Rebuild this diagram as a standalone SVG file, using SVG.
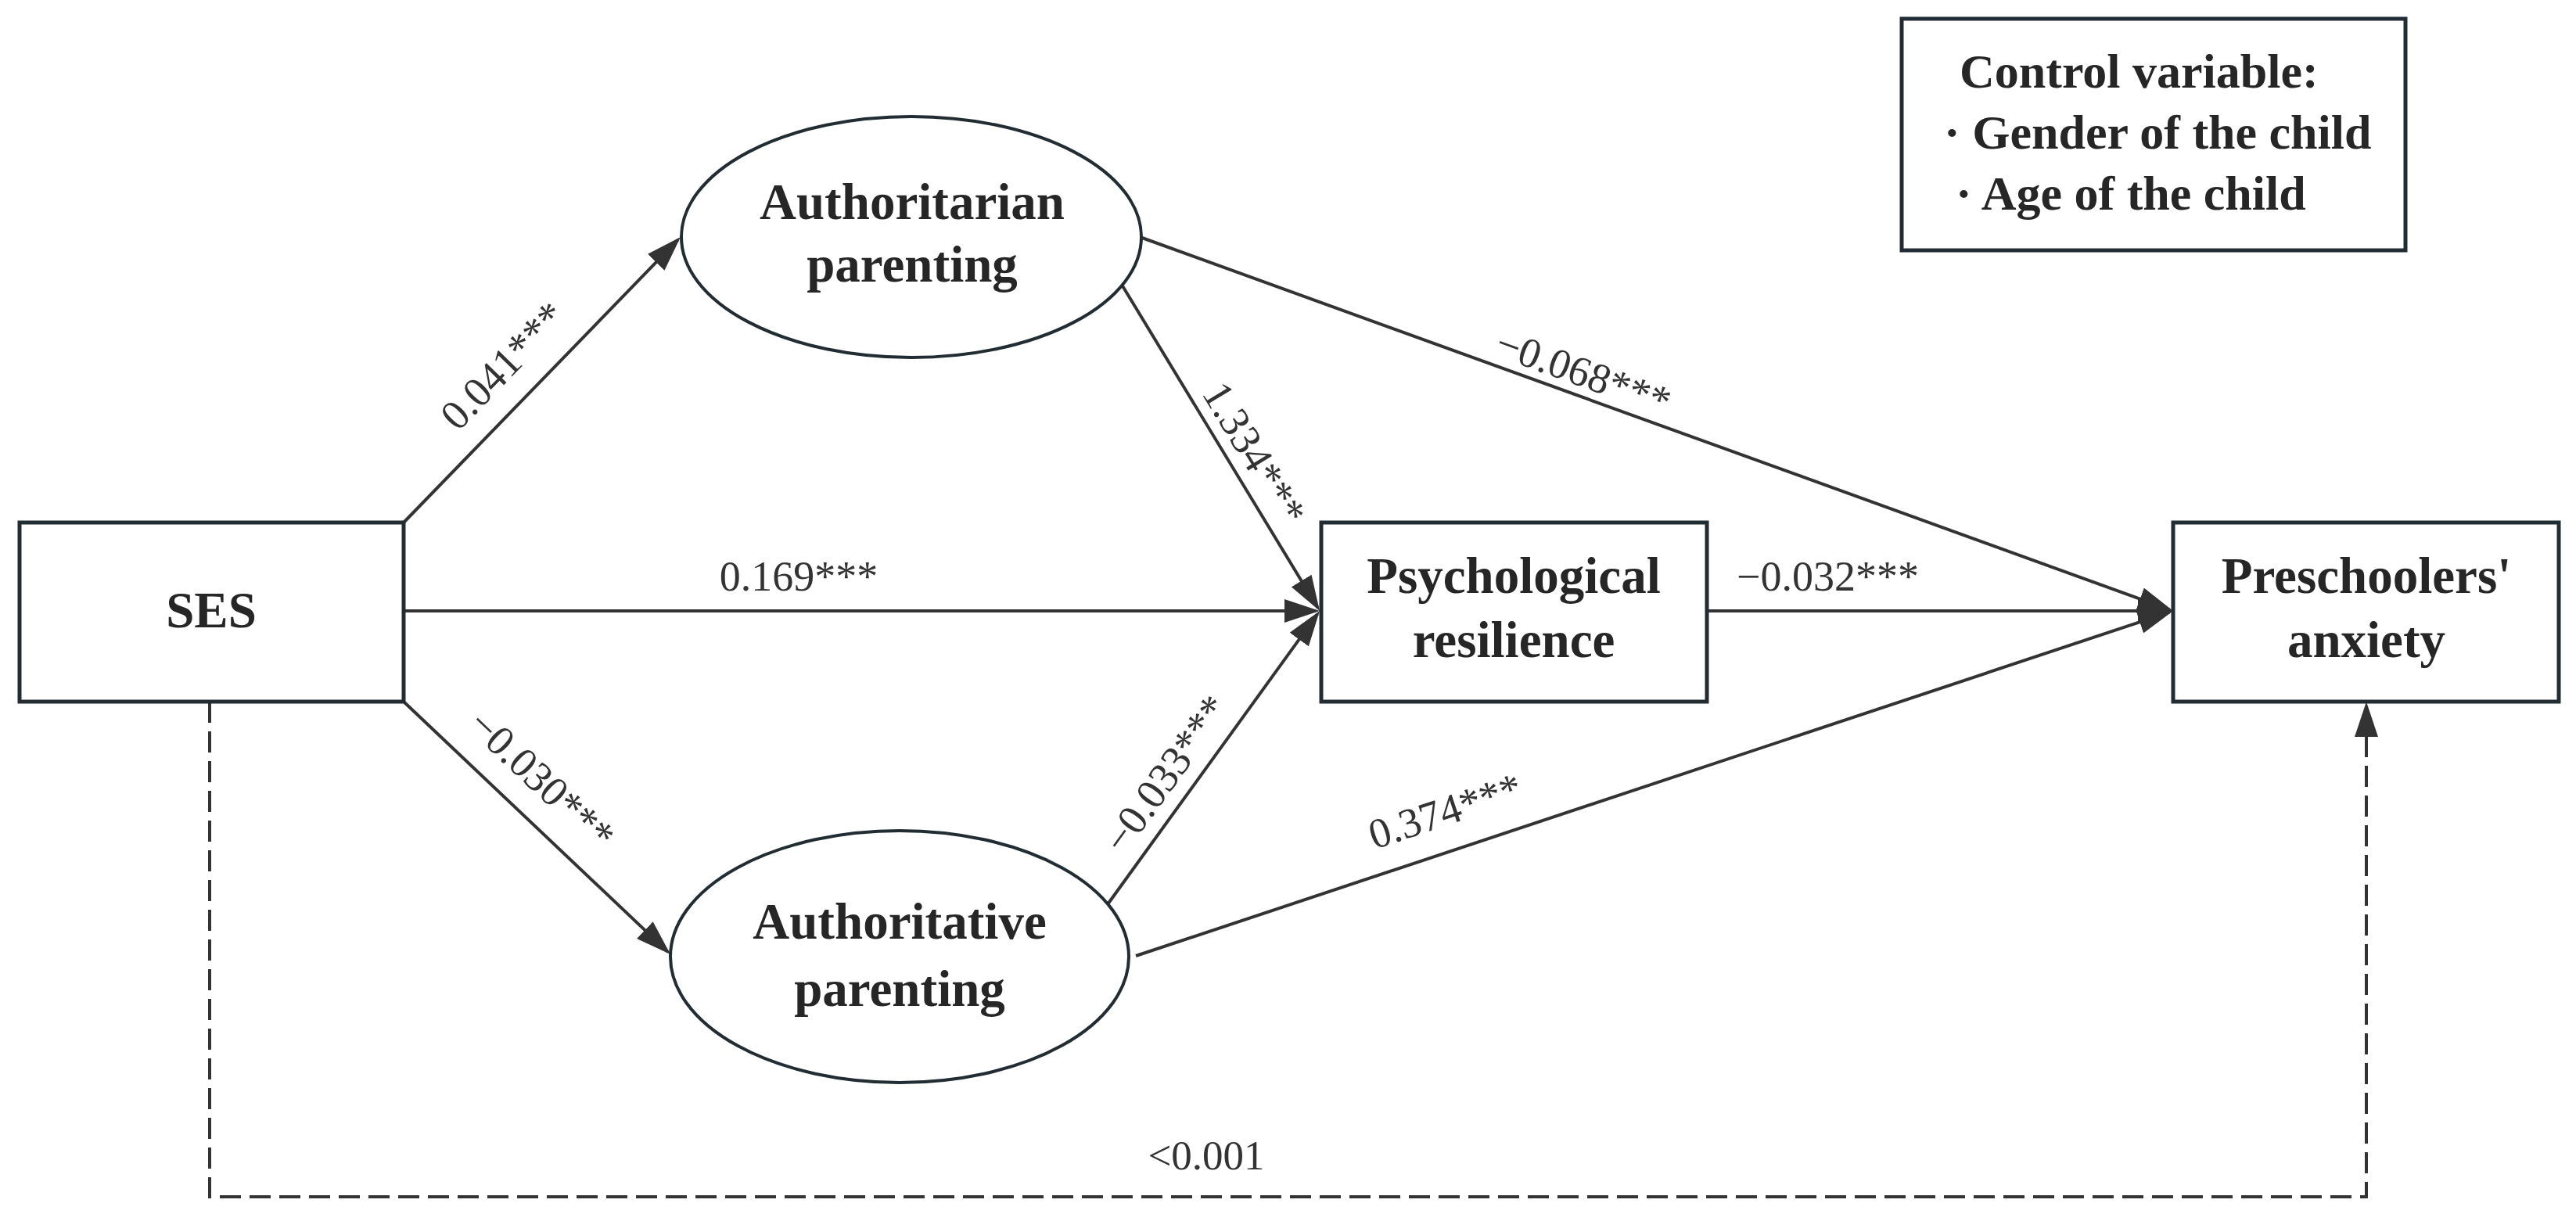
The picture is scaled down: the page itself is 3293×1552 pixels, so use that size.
<svg xmlns="http://www.w3.org/2000/svg" width="3293" height="1552" viewBox="0 0 3293 1552">
<style>
.box{fill:#fff;stroke:#222c33;stroke-width:5}
.ell{fill:#fff;stroke:#222c33;stroke-width:4}
.node{font-family:"Liberation Serif","Times New Roman",serif;font-weight:bold;font-size:65px;fill:#262626;text-anchor:middle}
.ctrl{font-family:"Liberation Serif","Times New Roman",serif;font-weight:bold;font-size:62px;fill:#262626}
.lbl{font-family:"Liberation Serif","Times New Roman",serif;font-size:54px;fill:#333;text-anchor:middle}
.edge{fill:none;stroke:#333;stroke-width:4}
.dash{stroke-dasharray:27 11}
</style>
<defs>
<marker id="arr" markerUnits="userSpaceOnUse" markerWidth="45" markerHeight="30" viewBox="0 0 45 30" refX="40" refY="15" orient="auto">
<path d="M0,0 L45,15 L0,30 z" fill="#333"/>
</marker>
</defs>
<rect width="3293" height="1552" fill="#fff"/>
<g id="connectors">
<path class="edge" d="M516,668 L866.5,306.6" marker-end="url(#arr)"/>
<path class="edge" d="M516,781 L1682,781" marker-end="url(#arr)"/>
<path class="edge" d="M516,897 L853.4,1216.6" marker-end="url(#arr)"/>
<path class="edge" d="M1434.5,364.7 L1684.4,776.7" marker-end="url(#arr)"/>
<path class="edge" d="M1416,1156 L1684.1,785.1" marker-end="url(#arr)"/>
<path class="edge" d="M1460,304 L2773.3,779.3" marker-end="url(#arr)"/>
<path class="edge" d="M2182,781 L2773,781" marker-end="url(#arr)"/>
<path class="edge" d="M1452,1222 L2773.3,782.6" marker-end="url(#arr)"/>
<path class="edge dash" d="M268,897 V1530 H3025 V902" marker-end="url(#arr)"/>
<text class="lbl" x="656" y="480" transform="rotate(-45.88 656 480)">0.041***</text>
<text class="lbl" x="1021" y="755">0.169***</text>
<text class="lbl" x="680" y="1010" transform="rotate(43.45 680 1010)">−0.030***</text>
<text class="lbl" x="1588" y="589" transform="rotate(58.76 1588 589)">1.334***</text>
<text class="lbl" x="1505" y="1000" transform="rotate(-54.15 1505 1000)">−0.033***</text>
<text class="lbl" x="2018" y="493" transform="rotate(19.9 2018 493)">−0.068***</text>
<text class="lbl" x="1853" y="1054" transform="rotate(-18.4 1853 1054)">0.374***</text>
<text class="lbl" x="2220" y="755" style="text-anchor:start">−0.032***</text>
<text class="lbl" x="1542" y="1495" style="font-size:53px">&lt;0.001</text>
</g>
<g id="ses">
<rect class="box" x="25" y="668" width="491" height="229"/>
<text class="node" x="270" y="802">SES</text>
</g>
<g id="authoritarian">
<ellipse class="ell" cx="1165" cy="303" rx="294" ry="154"/>
<text class="node" x="1166" y="280">Authoritarian</text>
<text class="node" x="1166" y="360">parenting</text>
</g>
<g id="authoritative">
<ellipse class="ell" cx="1150" cy="1223" rx="293" ry="161"/>
<text class="node" x="1150" y="1200">Authoritative</text>
<text class="node" x="1150" y="1286">parenting</text>
</g>
<g id="resilience">
<rect class="box" x="1689" y="668" width="493" height="229"/>
<text class="node" x="1935" y="758">Psychological</text>
<text class="node" x="1935" y="840">resilience</text>
</g>
<g id="anxiety">
<rect class="box" x="2778" y="668" width="493" height="229"/>
<text class="node" x="3025" y="758">Preschoolers'</text>
<text class="node" x="3025" y="840">anxiety</text>
</g>
<g id="control">
<rect class="box" x="2431" y="24" width="644" height="296"/>
<text class="ctrl" x="2505" y="112">Control variable:</text>
<text class="ctrl" x="2485" y="190">· Gender of the child</text>
<text class="ctrl" x="2500" y="268">· Age of the child</text>
</g>
</svg>
